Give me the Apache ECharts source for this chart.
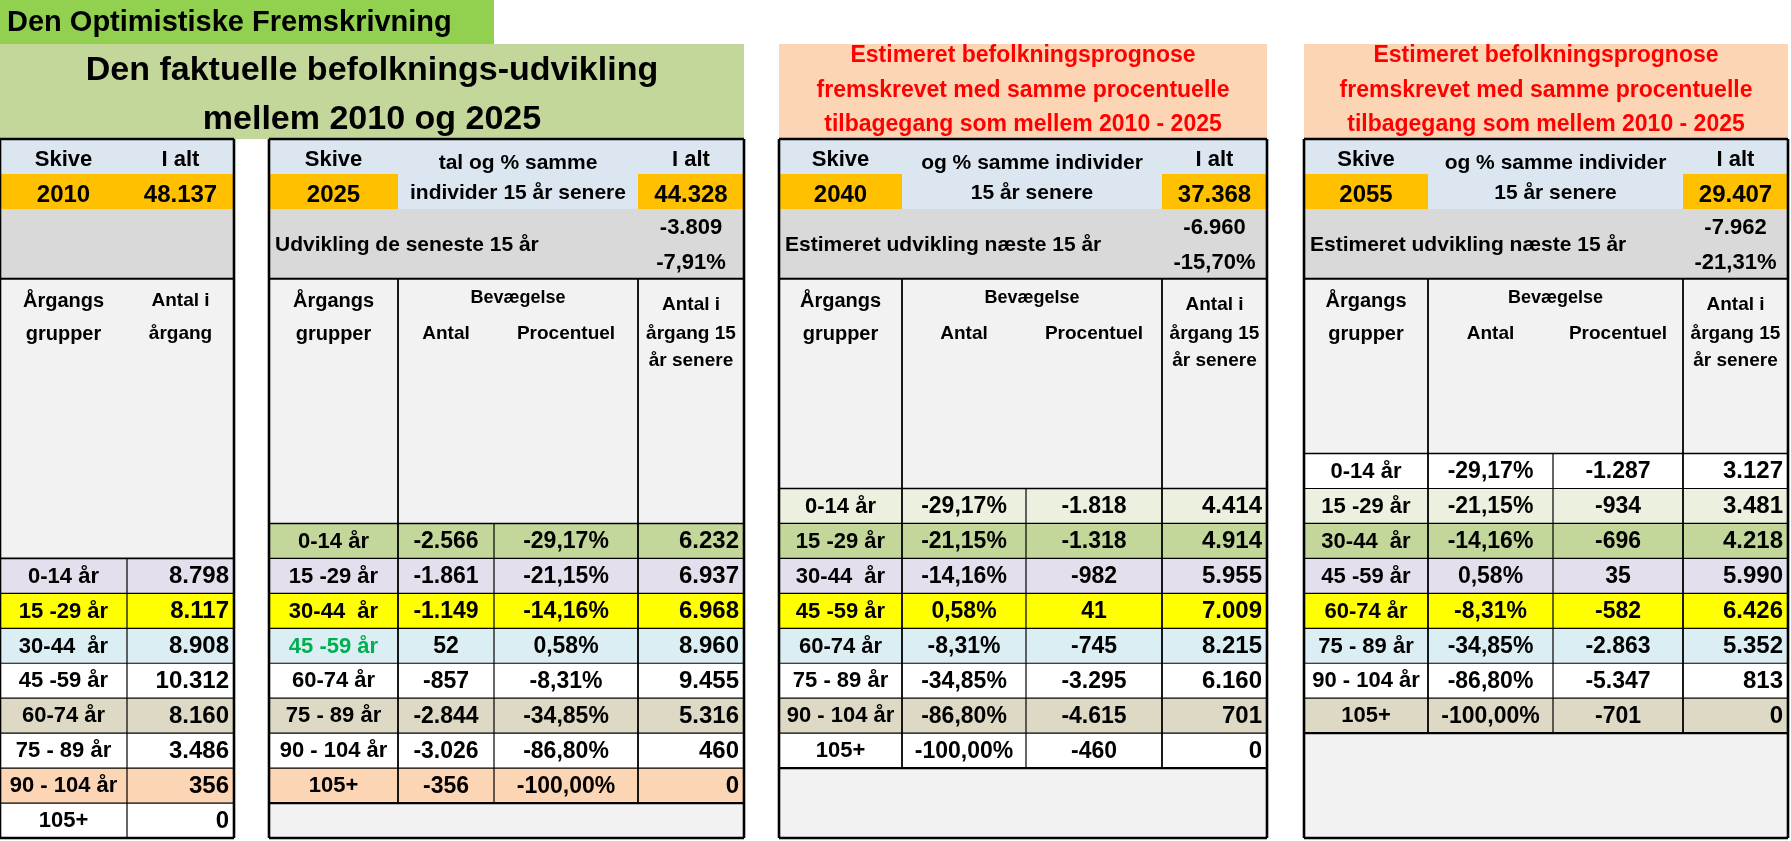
<!DOCTYPE html>
<html lang="da">
<head>
    <meta charset="UTF-8">
    <title>Den Optimistiske Fremskrivning</title>
    <script src="https://cdn.jsdelivr.net/npm/echarts@6/dist/echarts.min.js"></script>
    <style>
        html, body { margin: 0; padding: 0; background: #fff; }
        #main { width: 1791px; height: 841px; }
    </style>
</head>
<body>
<div id="main"></div>
<script>
    // aldersgrupper (samme i alle fire tabeller)
    var ageGroups = ['0-14 år', '15 -29 år', '30-44  år', '45 -59 år', '60-74 år', '75 - 89 år', '90 - 104 år', '105+'];

    // totaler for Skive
    var years = ['2010', '2025', '2040', '2055'];
    var totals = [48137, 44328, 37368, 29407];
    var change15 = [null, -3809, -6960, -7962];
    var changePct = [null, -7.91, -15.70, -21.31];

    // 2010
    var count2010 = [8798, 8117, 8908, 10312, 8160, 3486, 356, 0];
    // 2025 (faktisk)
    var move2025 = [-2566, -1861, -1149, 52, -857, -2844, -3026, -356];
    var pct2025 = [-29.17, -21.15, -14.16, 0.58, -8.31, -34.85, -86.80, -100.00];
    var count2025 = [6232, 6937, 6968, 8960, 9455, 5316, 460, 0];
    // 2040 (estimeret)
    var pct2040 = [-29.17, -21.15, -14.16, 0.58, -8.31, -34.85, -86.80, -100.00];
    var move2040 = [-1818, -1318, -982, 41, -745, -3295, -4615, -460];
    var count2040 = [4414, 4914, 5955, 7009, 8215, 6160, 701, 0];
    // 2055 (estimeret)
    var pct2055 = [-29.17, -21.15, -14.16, 0.58, -8.31, -34.85, -86.80, -100.00];
    var move2055 = [-1287, -934, -696, 35, -582, -2863, -5347, -701];
    var count2055 = [3127, 3481, 4218, 5990, 6426, 5352, 813, 0];

    // layout
    var FONT = "'Liberation Sans', Arial, sans-serif";
    var TOP = 139, ROWS = 20, ROW_H = 34.95;
    var tableLeft = [0, 269, 779, 1304];
    var colWidths = [[127, 107], [129, 96, 144, 106], [123, 124, 136, 105], [124, 125, 130, 105]];
    var BLUE = '#DCE6F1', ORANGE = '#FFC000', GREY = '#D9D9D9', LIGHT = '#F2F2F2';
    // farve pr. årgang (fra -3 til 6), så samme årgang har samme farve i alle tabeller
    var cohortColors = ['#FFFFFF', '#EBF1DE', '#C4D79B', '#E4DFEC', '#FFFF00', '#DAEEF3', '#FFFFFF', '#DDD9C4', '#FFFFFF', '#FCD5B4'];

    function fmtInt(n) {
        var s = Math.abs(n).toString().replace(/\B(?=(\d{3})+(?!\d))/g, '.');
        return (n < 0 ? '-' : '') + s;
    }
    function fmtPct(p) {
        return p.toFixed(2).replace('.', ',') + '%';
    }

    var edges = colWidths.map(function (ws) {
        var e = [0];
        ws.forEach(function (w) { e.push(e[e.length - 1] + w); });
        return e;
    });
    var items = [[], [], [], []];

    function rect(k, c0, c1, r0, r1, fill) {
        var e = edges[k];
        items[k].push({kind: 'rect', v: [e[c0], e[c1], r0, r1], fill: fill});
    }
    function text(k, c0, c1, r, str, size, align, color) {
        var e = edges[k], x0 = e[c0], x1 = e[c1];
        if (align === 'left') x0 += 6;
        if (align === 'right') x1 -= 5;
        items[k].push({kind: 'text', v: [x0, x1, r, r], text: str, size: size, align: align || 'center', color: color || '#000'});
    }
    function line(k, x0, x1, r0, r1, lw) {
        items[k].push({kind: 'line', v: [x0, x1, r0, r1], lw: lw});
    }

    var cols2 = [null, [move2025, pct2025, count2025], [pct2040, move2040, count2040], [pct2055, move2055, count2055]];

    for (var k = 0; k < 4; k++) {
        var e = edges[k], n = colWidths[k].length, last = n - 1, W = e[n];
        var start = 12 - k;

        // fyld
        if (k === 0) {
            rect(k, 0, n, 0, 1, BLUE);
            rect(k, 0, n, 1, 2, ORANGE);
        } else {
            rect(k, 0, n, 0, 2, BLUE);
            rect(k, 0, 1, 1, 2, ORANGE);
            rect(k, last, n, 1, 2, ORANGE);
        }
        rect(k, 0, n, 2, 4, GREY);
        rect(k, 0, n, 4, start, LIGHT);
        if (start + 8 < ROWS) rect(k, 0, n, start + 8, ROWS, LIGHT);
        for (var i = 0; i < ageGroups.length; i++) {
            rect(k, 0, n, start + i, start + i + 1, cohortColors[i - k + 3]);
        }

        // tekst i toppen
        text(k, 0, 1, 0.6, 'Skive', 22);
        text(k, last, n, 0.6, 'I alt', 22);
        text(k, 0, 1, 1.6, years[k], 24);
        text(k, last, n, 1.6, fmtInt(totals[k]), 24);
        if (k > 0) {
            var sub = k === 1 ? ['tal og % samme', 'individer 15 år senere'] : ['og % samme individer', '15 år senere'];
            text(k, 1, last, 0.69, sub[0], 21);
            text(k, 1, last, 1.55, sub[1], 21);
            text(k, 0, last, 3.03, k === 1 ? 'Udvikling de seneste 15 år' : 'Estimeret udvikling næste 15 år', 21, 'left');
            text(k, last, n, 2.55, fmtInt(change15[k]), 22);
            text(k, last, n, 3.55, fmtPct(changePct[k]), 22);
        }

        // kolonneoverskrifter
        text(k, 0, 1, 4.64, 'Årgangs', 20);
        text(k, 0, 1, 5.58, 'grupper', 20);
        if (k === 0) {
            text(k, 1, 2, 4.64, 'Antal i', 19);
            text(k, 1, 2, 5.58, 'årgang', 19);
        } else {
            text(k, 1, 3, 4.55, 'Bevægelse', 18);
            text(k, 1, 2, 5.58, 'Antal', 19);
            text(k, 2, 3, 5.58, 'Procentuel', 19);
            text(k, 3, 4, 4.75, 'Antal i', 19);
            text(k, 3, 4, 5.58, 'årgang 15', 19);
            text(k, 3, 4, 6.35, 'år senere', 19);
        }

        // datarækker
        for (i = 0; i < ageGroups.length; i++) {
            var r = start + i + 0.52;
            text(k, 0, 1, r, ageGroups[i], 22, 'center', (k === 1 && i === 3) ? '#00B050' : '#000');
            if (k === 0) {
                text(k, 1, 2, r, fmtInt(count2010[i]), 24, 'right');
            } else {
                var c = cols2[k];
                text(k, 1, 2, r, k === 1 ? fmtInt(c[0][i]) : fmtPct(c[0][i]), 23);
                text(k, 2, 3, r, k === 1 ? fmtPct(c[1][i]) : fmtInt(c[1][i]), 23);
                text(k, 3, 4, r, fmtInt(c[2][i]), 24, 'right');
            }
        }

        // linjer
        line(k, 0, W, 4, 4, 2);
        line(k, 0, W, start, start, 1.6);
        for (i = 1; i < 8; i++) line(k, 0, W, start + i, start + i, 1.2);
        if (k > 0) {
            line(k, 0, W, start + 8, start + 8, 2.2);
            line(k, e[1], e[1], 4, start + 8, 1.8);
            line(k, e[3], e[3], 4, start + 8, 1.8);
            line(k, e[2], e[2], start, start + 8, 1.2);
        } else {
            line(k, e[1], e[1], start, start + 8, 1.2);
        }
        // ydre ramme
        line(k, 0, W, 0, 0, 2.6);
        line(k, 0, W, ROWS, ROWS, 2.6);
        line(k, 0, 0, 0, ROWS, 2.6);
        line(k, W, W, 0, ROWS, 2.6);
    }

    function renderCell(k) {
        return function (params, api) {
            var it = items[k][params.dataIndex];
            var a = api.coord([api.value(0), api.value(2)]);
            var b = api.coord([api.value(1), api.value(3)]);
            if (it.kind === 'rect') {
                return {type: 'rect', z2: 0,
                    shape: {x: a[0], y: a[1], width: b[0] - a[0], height: b[1] - a[1]},
                    style: {fill: it.fill}};
            }
            if (it.kind === 'line') {
                return {type: 'line', z2: 5,
                    shape: {x1: a[0], y1: a[1], x2: b[0], y2: b[1]},
                    style: {stroke: '#000', lineWidth: it.lw}};
            }
            var x = it.align === 'left' ? a[0] : (it.align === 'right' ? b[0] : (a[0] + b[0]) / 2);
            return {type: 'text', z2: 10, x: x, y: a[1],
                style: {text: it.text, fill: it.color, fontSize: it.size, fontWeight: 'bold',
                    fontFamily: FONT, align: it.align, verticalAlign: 'middle'}};
        };
    }

    var chart = echarts.init(document.getElementById('main'));
    var grids = [], xAxes = [], yAxes = [], series = [];
    for (k = 0; k < 4; k++) {
        var width = edges[k][edges[k].length - 1];
        grids.push({left: tableLeft[k], top: TOP, width: width, height: ROWS * ROW_H});
        xAxes.push({type: 'value', gridIndex: k, min: 0, max: width, show: false});
        yAxes.push({type: 'value', gridIndex: k, min: 0, max: ROWS, inverse: true, show: false});
        series.push({
            type: 'custom', xAxisIndex: k, yAxisIndex: k, silent: true, clip: false,
            renderItem: renderCell(k),
            data: items[k].map(function (it) { return it.v; })
        });
    }

    var redTitle = ['Estimeret befolkningsprognose', 'fremskrevet med samme procentuelle', 'tilbagegang som mellem 2010 - 2025'];
    var graphic = [
        {type: 'rect', shape: {x: 0, y: 0, width: 494, height: 44}, style: {fill: '#92D050'}},
        {type: 'text', x: 7, y: 23, style: {text: 'Den Optimistiske Fremskrivning', fontSize: 29, fontWeight: 'bold', fontFamily: FONT, fill: '#000', verticalAlign: 'middle'}},
        {type: 'rect', shape: {x: 0, y: 44, width: 744, height: 95}, style: {fill: '#C4D79B'}},
        {type: 'text', x: 372, y: 71, style: {text: 'Den faktuelle befolknings-udvikling', fontSize: 34, fontWeight: 'bold', fontFamily: FONT, fill: '#000', align: 'center', verticalAlign: 'middle'}},
        {type: 'text', x: 372, y: 120, style: {text: 'mellem 2010 og 2025', fontSize: 34, fontWeight: 'bold', fontFamily: FONT, fill: '#000', align: 'center', verticalAlign: 'middle'}}
    ];
    [2, 3].forEach(function (k) {
        var w = edges[k][edges[k].length - 1];
        graphic.push({type: 'rect', shape: {x: tableLeft[k], y: 44, width: w, height: 95}, style: {fill: '#FCD5B4'}});
        redTitle.forEach(function (t, j) {
            graphic.push({type: 'text', x: tableLeft[k] + w / 2, y: 56 + j * 34.5,
                style: {text: t, fontSize: 23, fontWeight: 'bold', fontFamily: FONT, fill: '#FF0000', align: 'center', verticalAlign: 'middle'}});
        });
    });

    chart.setOption({
        animation: false,
        backgroundColor: '#FFFFFF',
        grid: grids,
        xAxis: xAxes,
        yAxis: yAxes,
        graphic: graphic,
        series: series
    });

    window.addEventListener('resize', function () {
        chart.resize();
    });
</script>
</body>
</html>
